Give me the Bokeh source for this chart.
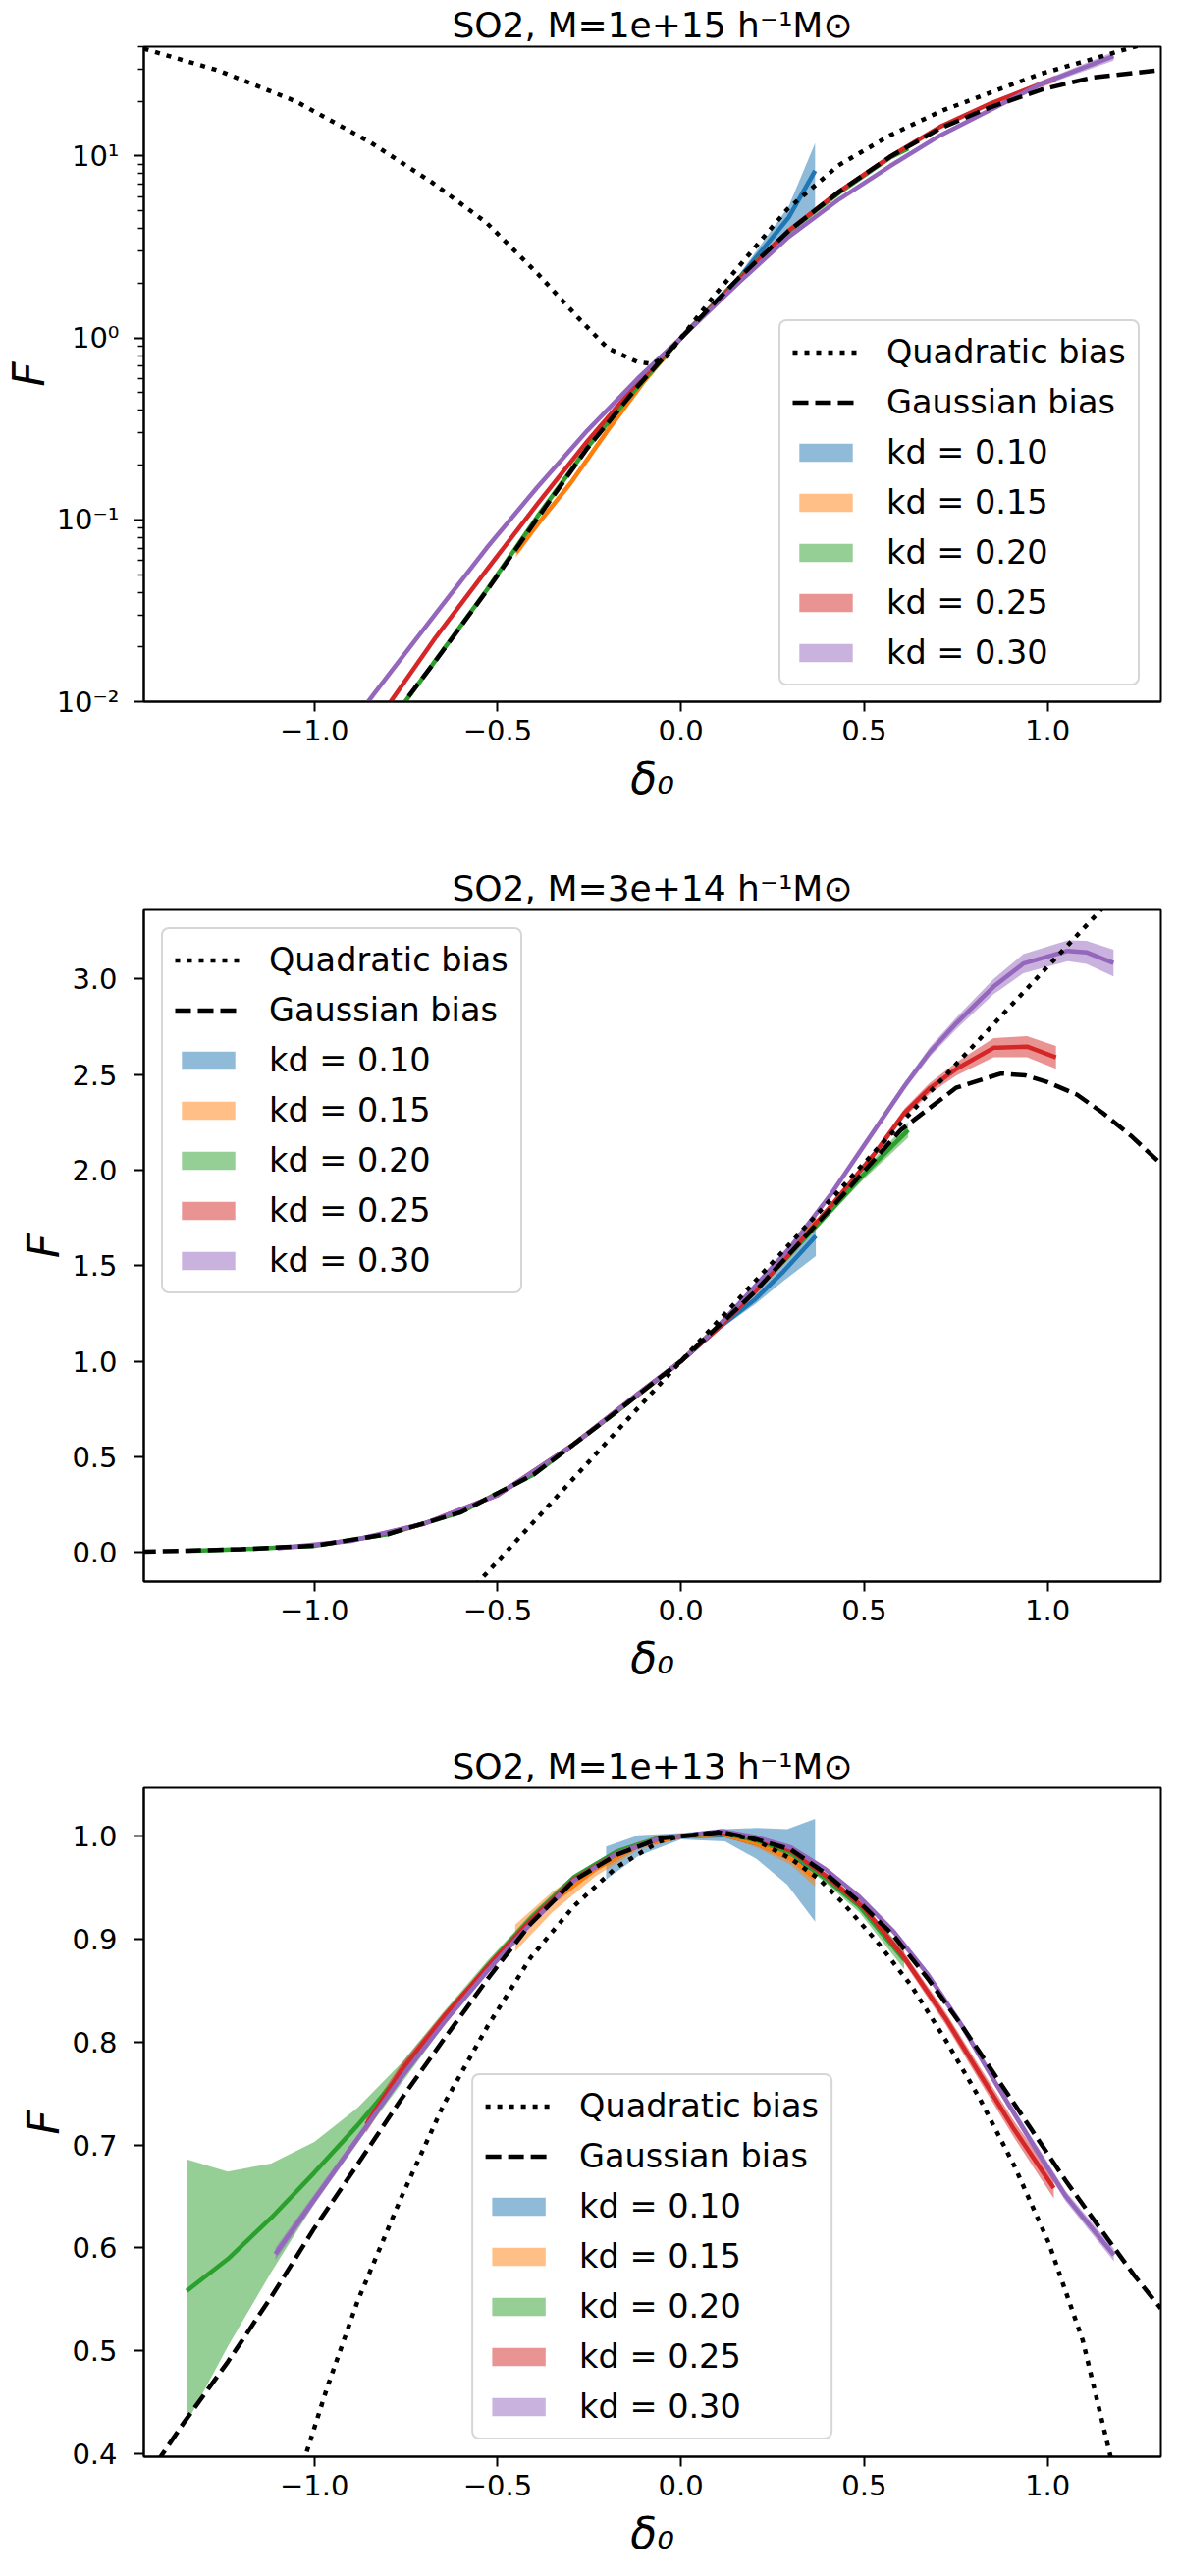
from bokeh.embed import file_html
from bokeh.layouts import column
from bokeh.models import CustomJSTickFormatter, FixedTicker, Legend, LegendItem, Range1d
from bokeh.plotting import figure
from bokeh.resources import INLINE

FONT = "DejaVu Sans"

# matplotlib tab10 colours for the five k_d cuts
KD_COLORS = ["#1f77b4", "#ff7f0e", "#2ca02c", "#d62728", "#9467bd"]
KD_LABELS = ["kd = 0.10", "kd = 0.15", "kd = 0.20", "kd = 0.25", "kd = 0.30"]

X_LIMITS = (-1.465, 1.309)
X_TICKS = [-1.0, -0.5, 0.0, 0.5, 1.0]

# ---------------- M = 1e15 (log y) ----------------
M15_QUAD_X = [-1.465, -1.26, -1.05, -0.85, -0.68, -0.53, -0.39, -0.28, -0.20, -0.12, -0.08, -0.04,
              0.0, 0.09, 0.16, 0.29, 0.43, 0.57, 0.71, 0.85, 0.98, 1.12, 1.23, 1.31]
M15_QUAD_F = [39.0, 29.5, 20.0, 12.0, 7.2, 4.3, 2.25, 1.29, 0.88, 0.74, 0.72, 0.79,
              1.0, 1.70, 2.5, 5.1, 8.9, 13.0, 17.7, 22.6, 28.3, 34.1, 39.6, 44.0]
M15_GAUSS_X = [-0.78, -0.67, -0.53, -0.39, -0.255, -0.12, 0.0, 0.156, 0.294, 0.432, 0.57, 0.707,
               0.845, 0.983, 1.12, 1.31]
M15_GAUSS_F = [0.0085, 0.0167, 0.0406, 0.103, 0.248, 0.536, 1.0, 2.12, 3.88, 6.38, 9.9, 14.2,
               18.6, 23.2, 27.0, 29.8]

M15_K10_X = [-0.2, -0.1, 0.0, 0.1, 0.16, 0.225, 0.294, 0.366]
M15_K10_F = [0.33, 0.6, 1.0, 1.62, 2.15, 3.1, 4.6, 8.3]
M15_K10_E = [0.01, 0.015, 0.01, 0.04, 0.1, 0.3, 0.7, 3.5]

M15_K15_X = [-0.45, -0.39, -0.3, -0.2, -0.1, 0.0, 0.1, 0.2, 0.3, 0.37]
M15_K15_F = [0.066, 0.095, 0.16, 0.31, 0.58, 1.0, 1.6, 2.55, 3.95, 5.1]
M15_K15_E = [0.004, 0.004, 0.005, 0.006, 0.01, 0.01, 0.02, 0.04, 0.07, 0.1]

M15_K20_X = [-0.78, -0.668, -0.53, -0.392, -0.255, -0.118, 0.0, 0.156, 0.294, 0.432, 0.57, 0.62]
M15_K20_F = [0.0084, 0.017, 0.041, 0.104, 0.25, 0.54, 1.0, 2.1, 3.85, 6.3, 9.8, 11.0]
M15_K20_E = [0.0002, 0.0003, 0.0007, 0.0015, 0.003, 0.006, 0.01, 0.02, 0.04, 0.07, 0.12, 0.15]

M15_K25_X = [-0.82, -0.668, -0.53, -0.392, -0.255, -0.118, 0.0, 0.156, 0.294, 0.432, 0.57, 0.707,
             0.845, 0.983, 1.022]
M15_K25_F = [0.0083, 0.0227, 0.053, 0.122, 0.271, 0.567, 1.0, 2.08, 3.9, 6.4, 9.9, 14.5,
             19.5, 25.0, 26.7]
M15_K25_E = [0.0002, 0.0004, 0.0008, 0.002, 0.004, 0.008, 0.01, 0.02, 0.04, 0.07, 0.12, 0.2,
             0.35, 1.0, 1.2]

M15_K30_X = [-0.86, -0.805, -0.668, -0.53, -0.392, -0.255, -0.118, 0.0, 0.156, 0.294, 0.432, 0.57,
             0.707, 0.845, 0.983, 1.18]
M15_K30_F = [0.0096, 0.0134, 0.0307, 0.07, 0.151, 0.31, 0.598, 1.0, 2.0, 3.6, 5.8, 8.8,
             13.0, 18.0, 25.0, 35.5]
M15_K30_E = [0.0002, 0.0003, 0.0006, 0.0013, 0.003, 0.006, 0.01, 0.01, 0.03, 0.05, 0.09, 0.14,
             0.25, 0.4, 0.8, 2.0]

# ---------------- M = 3e14 ----------------
M314_QUAD_X = [-0.56, -0.3, 0.0, 0.3, 0.6, 0.9, 1.16]
M314_QUAD_F = [-0.172, 0.372, 1.0, 1.62, 2.245, 2.86, 3.39]
M314_GAUSS_X = [-1.475, -1.2, -1.0, -0.8, -0.6, -0.4, -0.2, 0.0, 0.2, 0.4, 0.6, 0.75, 0.873, 0.94,
                1.0, 1.08, 1.15, 1.23, 1.313]
M314_GAUSS_F = [0.003, 0.016, 0.035, 0.095, 0.21, 0.41, 0.70, 1.0, 1.36, 1.78, 2.21, 2.43, 2.505,
                2.495, 2.46, 2.395, 2.30, 2.175, 2.026]

M314_K10_X = [-0.2, -0.1, 0.0, 0.1, 0.2, 0.28, 0.368]
M314_K10_F = [0.70, 0.85, 1.0, 1.17, 1.32, 1.47, 1.655]
M314_K10_E = [0.005, 0.005, 0.005, 0.01, 0.025, 0.05, 0.105]

M314_K15_X = [-0.45, -0.3, -0.15, 0.0, 0.15, 0.3, 0.37]
M314_K15_F = [0.36, 0.555, 0.775, 1.0, 1.27, 1.57, 1.74]
M314_K15_E = [0.004, 0.004, 0.005, 0.005, 0.01, 0.025, 0.04]

M314_K20_X = [-1.35, -1.2, -1.0, -0.8, -0.6, -0.4, -0.2, 0.0, 0.2, 0.4, 0.5, 0.62]
M314_K20_F = [0.008, 0.016, 0.035, 0.095, 0.21, 0.41, 0.70, 1.0, 1.36, 1.77, 1.98, 2.21]
M314_K20_E = [0.002, 0.002, 0.003, 0.003, 0.004, 0.004, 0.005, 0.005, 0.008, 0.015, 0.025, 0.04]

M314_K25_X = [-0.86, -0.7, -0.5, -0.3, -0.1, 0.0, 0.1, 0.206, 0.3, 0.408, 0.53, 0.61, 0.68,
              0.752, 0.853, 0.944, 1.023]
M314_K25_F = [0.075, 0.15, 0.30, 0.555, 0.855, 1.0, 1.17, 1.372, 1.57, 1.81, 2.09, 2.30, 2.43,
              2.53, 2.64, 2.646, 2.59]
M314_K25_E = [0.003, 0.003, 0.004, 0.004, 0.005, 0.005, 0.006, 0.008, 0.01, 0.012, 0.018, 0.022,
              0.028, 0.035, 0.05, 0.055, 0.06]

M314_K30_X = [-1.1, -0.9, -0.7, -0.5, -0.3, -0.1, 0.0, 0.1, 0.206, 0.3, 0.408, 0.5, 0.61, 0.68,
              0.752, 0.853, 0.934, 1.055, 1.106, 1.18]
M314_K30_F = [0.022, 0.06, 0.15, 0.30, 0.555, 0.855, 1.0, 1.18, 1.40, 1.60, 1.87, 2.13, 2.44,
              2.62, 2.77, 2.96, 3.08, 3.147, 3.139, 3.083]
M314_K30_E = [0.003, 0.003, 0.004, 0.005, 0.005, 0.005, 0.005, 0.006, 0.008, 0.01, 0.012, 0.016,
              0.02, 0.025, 0.03, 0.04, 0.05, 0.055, 0.06, 0.07]

# ---------------- M = 1e13 ----------------
M13_QUAD_X = [-1.04, -0.965, -0.882, -0.764, -0.646, -0.528, -0.41, -0.292, -0.175, -0.057, 0.0,
              0.1, 0.2, 0.3, 0.375, 0.44, 0.534, 0.628, 0.722, 0.815, 0.909, 1.003, 1.096, 1.172,
              1.2]
M13_QUAD_F = [0.38, 0.464, 0.548, 0.648, 0.74, 0.815, 0.882, 0.932, 0.97, 0.995, 1.0,
              1.004, 0.997, 0.978, 0.959, 0.936, 0.898, 0.855, 0.802, 0.745, 0.68, 0.605, 0.51,
              0.397, 0.36]
M13_GAUSS_X = [-1.465, -1.419, -1.354, -1.236, -1.118, -1.0, -0.882, -0.764, -0.646, -0.528,
               -0.41, -0.292, -0.175, -0.057, 0.0, 0.112, 0.206, 0.30, 0.394, 0.487, 0.581,
               0.675, 0.768, 0.862, 0.956, 1.05, 1.143, 1.237, 1.309]
M13_GAUSS_F = [0.372, 0.397, 0.431, 0.489, 0.552, 0.619, 0.681, 0.744, 0.803, 0.861,
               0.915, 0.957, 0.982, 0.998, 1.0, 1.004, 0.997, 0.987, 0.964, 0.936, 0.903,
               0.861, 0.815, 0.765, 0.715, 0.665, 0.619, 0.573, 0.541]

M13_K10_X = [-0.204, -0.116, 0.0, 0.12, 0.206, 0.29, 0.366]
M13_K10_F = [0.974, 0.991, 1.0, 1.001, 0.993, 0.98, 0.967]
M13_K10_E = [0.016, 0.01, 0.003, 0.006, 0.015, 0.027, 0.05]

M13_K15_X = [-0.452, -0.351, -0.233, -0.116, 0.0, 0.112, 0.206, 0.30, 0.366]
M13_K15_F = [0.901, 0.936, 0.968, 0.991, 1.0, 1.002, 0.993, 0.978, 0.959]
M13_K15_E = [0.013, 0.01, 0.007, 0.004, 0.002, 0.002, 0.004, 0.006, 0.008]

M13_K20_X = [-1.348, -1.236, -1.118, -1.0, -0.882, -0.764, -0.646, -0.528, -0.41, -0.292, -0.175,
             -0.057, 0.0, 0.112, 0.206, 0.30, 0.394, 0.487, 0.609]
M13_K20_F = [0.558, 0.589, 0.629, 0.673, 0.719, 0.769, 0.823, 0.874, 0.92, 0.96, 0.985,
             0.999, 1.0, 1.003, 0.996, 0.984, 0.959, 0.932, 0.88]
M13_K20_E = [0.128, 0.085, 0.053, 0.03, 0.017, 0.01, 0.007, 0.005, 0.004, 0.003, 0.002,
             0.002, 0.001, 0.002, 0.002, 0.003, 0.004, 0.006, 0.009]

M13_K25_X = [-0.858, -0.764, -0.646, -0.528, -0.41, -0.292, -0.175, -0.057, 0.0, 0.112, 0.206,
             0.30, 0.394, 0.5, 0.609, 0.722, 0.815, 0.909, 1.017]
M13_K25_F = [0.72, 0.772, 0.825, 0.873, 0.918, 0.958, 0.983, 0.998, 1.0, 1.004, 0.998,
             0.986, 0.962, 0.93, 0.882, 0.823, 0.769, 0.715, 0.658]
M13_K25_E = [0.008, 0.006, 0.004, 0.003, 0.002, 0.002, 0.002, 0.001, 0.001, 0.001, 0.002,
             0.002, 0.003, 0.004, 0.005, 0.006, 0.007, 0.008, 0.01]

M13_K30_X = [-1.106, -1.0, -0.882, -0.764, -0.646, -0.528, -0.41, -0.292, -0.175, -0.057, 0.0,
             0.112, 0.206, 0.30, 0.394, 0.487, 0.581, 0.675, 0.768, 0.862, 0.956, 1.05, 1.181]
M13_K30_F = [0.594, 0.647, 0.706, 0.765, 0.819, 0.869, 0.915, 0.957, 0.983, 0.998, 1.0,
             1.005, 0.999, 0.989, 0.968, 0.941, 0.907, 0.865, 0.815, 0.758, 0.703, 0.650, 0.593]
M13_K30_E = [0.006, 0.005, 0.004, 0.003, 0.003, 0.002, 0.002, 0.002, 0.002, 0.001, 0.001,
             0.001, 0.002, 0.002, 0.002, 0.003, 0.003, 0.003, 0.004, 0.004, 0.005, 0.005, 0.006]


ONE_DECIMAL = CustomJSTickFormatter(code="return tick.toFixed(1).replace('-', '\\u2212');")
POWER_OF_TEN = CustomJSTickFormatter(code="""
const sup = {'-': '\\u207b', '0': '\\u2070', '1': '\\u00b9', '2': '\\u00b2', '3': '\\u00b3'};
const e = Math.round(Math.log10(tick));
return '10' + String(e).split('').map(c => sup[c]).join('');
""")

LINE_W = 4.5


def make_panel(title, quad, gauss, curves, y_limits, y_ticks, height, left, top, bottom,
               legend_loc, legend_margin, log_y=False, y_minor=None):
    p = figure(
        width=1184, height=height,
        x_range=Range1d(*X_LIMITS), y_range=Range1d(*y_limits),
        y_axis_type="log" if log_y else "linear",
        output_backend="svg", toolbar_location=None,
        min_border_left=left, min_border_right=2, min_border_top=top, min_border_bottom=bottom,
        title=title,
    )
    p.title.align = "center"
    p.title.text_font = FONT
    p.title.text_font_size = "36px"
    p.title.text_font_style = "normal"
    p.title.text_color = "black"
    p.title.standoff = 4

    p.xgrid.visible = False
    p.ygrid.visible = False
    p.outline_line_color = "black"
    p.outline_line_width = 2

    # uncertainty bands first, then the measured lines, then the two models on top
    bands = []
    for (x, f, err), color in zip(curves, KD_COLORS):
        lo = [a - e for a, e in zip(f, err)]
        hi = [a + e for a, e in zip(f, err)]
        bands.append(p.varea(x=x, y1=lo, y2=hi, fill_color=color, fill_alpha=0.5))
    for (x, f, err), color in zip(curves, KD_COLORS):
        p.line(x, f, line_color=color, line_width=LINE_W, line_join="round")
    quad_r = p.line(quad[0], quad[1], line_color="black", line_width=LINE_W, line_dash="5 7")
    gauss_r = p.line(gauss[0], gauss[1], line_color="black", line_width=LINE_W, line_dash="16 7")

    items = [LegendItem(label="Quadratic bias", renderers=[quad_r]),
             LegendItem(label="Gaussian bias", renderers=[gauss_r])]
    items += [LegendItem(label=lab, renderers=[b]) for lab, b in zip(KD_LABELS, bands)]
    legend = Legend(
        items=items, location=legend_loc, margin=legend_margin,
        label_text_font=FONT, label_text_font_size="33.5px", label_text_color="black",
        glyph_width=68, glyph_height=23, label_standoff=28, label_height=23,
        spacing=12, padding=12,
        border_line_color="#cccccc", border_line_width=2.5, border_line_alpha=0.8,
        background_fill_color="white", background_fill_alpha=0.8,
    )
    # rounded legend frame, if this bokeh version knows about it
    if "border_radius" in legend.properties():
        legend.border_radius = 8
    p.add_layout(legend)

    p.xaxis.ticker = FixedTicker(ticks=X_TICKS)
    p.xaxis.formatter = ONE_DECIMAL
    p.yaxis.ticker = FixedTicker(ticks=y_ticks, minor_ticks=y_minor or [])
    p.yaxis.formatter = POWER_OF_TEN if log_y else ONE_DECIMAL

    for ax in (p.xaxis, p.yaxis):
        ax.axis_line_width = 2
        ax.axis_line_color = "black"
        ax.major_tick_line_width = 2
        ax.major_tick_out = 10
        ax.major_tick_in = 0
        ax.minor_tick_line_width = 1.6
        ax.minor_tick_out = 6 if log_y else 0
        ax.minor_tick_in = 0
        ax.major_label_text_font = FONT
        ax.major_label_text_font_size = "29px"
        ax.major_label_text_color = "black"
        ax.axis_label_text_font = FONT
        ax.axis_label_text_font_size = "44px"
        ax.axis_label_text_font_style = "italic"
        ax.axis_label_text_color = "black"
    p.xaxis.major_label_standoff = 8
    p.xaxis.axis_label_standoff = 10
    p.yaxis.major_label_standoff = 15 if log_y else 17
    p.yaxis.axis_label_standoff = 0
    p.xaxis.axis_label = "δ₀"
    p.yaxis.axis_label = "F"
    return p


p1 = make_panel(
    "SO2, M=1e+15 h⁻¹M⊙",
    (M15_QUAD_X, M15_QUAD_F), (M15_GAUSS_X, M15_GAUSS_F),
    [(M15_K10_X, M15_K10_F, M15_K10_E), (M15_K15_X, M15_K15_F, M15_K15_E),
     (M15_K20_X, M15_K20_F, M15_K20_E), (M15_K25_X, M15_K25_F, M15_K25_E),
     (M15_K30_X, M15_K30_F, M15_K30_E)],
    (0.01, 40.0), [0.01, 0.1, 1.0, 10.0], height=822, left=143, top=44, bottom=108,
    legend_loc=(647, 16), legend_margin=0, log_y=True,
    y_minor=[0.02, 0.03, 0.04, 0.05, 0.06, 0.07, 0.08, 0.09,
             0.2, 0.3, 0.4, 0.5, 0.6, 0.7, 0.8, 0.9,
             2, 3, 4, 5, 6, 7, 8, 9, 20, 30, 40],
)

p2 = make_panel(
    "SO2, M=3e+14 h⁻¹M⊙",
    (M314_QUAD_X, M314_QUAD_F), (M314_GAUSS_X, M314_GAUSS_F),
    [(M314_K10_X, M314_K10_F, M314_K10_E), (M314_K15_X, M314_K15_F, M314_K15_E),
     (M314_K20_X, M314_K20_F, M314_K20_E), (M314_K25_X, M314_K25_F, M314_K25_E),
     (M314_K30_X, M314_K30_F, M314_K30_E)],
    (-0.153, 3.361), [0.0, 0.5, 1.0, 1.5, 2.0, 2.5, 3.0], height=896, left=122, top=104,
    bottom=108, legend_loc="top_left", legend_margin=18,
)

p3 = make_panel(
    "SO2, M=1e+13 h⁻¹M⊙",
    (M13_QUAD_X, M13_QUAD_F), (M13_GAUSS_X, M13_GAUSS_F),
    [(M13_K10_X, M13_K10_F, M13_K10_E), (M13_K15_X, M13_K15_F, M13_K15_E),
     (M13_K20_X, M13_K20_F, M13_K20_E), (M13_K25_X, M13_K25_F, M13_K25_E),
     (M13_K30_X, M13_K30_F, M13_K30_E)],
    (0.397, 1.047), [0.4, 0.5, 0.6, 0.7, 0.8, 0.9, 1.0], height=889, left=122, top=102,
    bottom=106, legend_loc="bottom_center", legend_margin=17,
)

layout = column(p1, p2, p3)
open("out.html", "w").write(file_html(layout, INLINE))
